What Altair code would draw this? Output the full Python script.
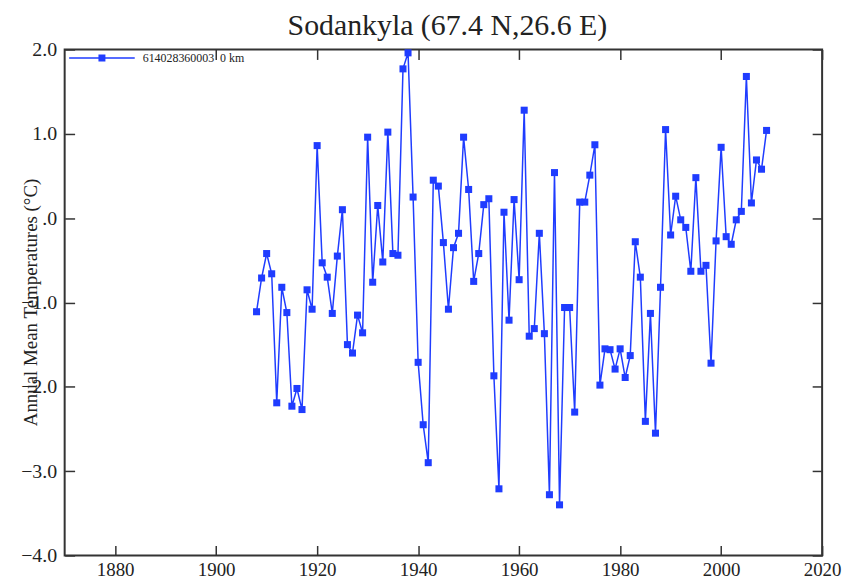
import altair as alt
import pandas as pd

years = list(range(1908, 2010))
temps = [-1.11, -0.71, -0.42, -0.66, -2.19, -0.82, -1.12, -2.23, -2.02, -2.27,
         -0.85, -1.08, 0.86, -0.53, -0.70, -1.13, -0.45, 0.10, -1.50, -1.60,
         -1.15, -1.36, 0.96, -0.76, 0.15, -0.52, 1.02, -0.42, -0.44, 1.77,
         1.96, 0.25, -1.71, -2.45, -2.90, 0.45, 0.38, -0.29, -1.08, -0.35,
         -0.18, 0.96, 0.34, -0.75, -0.42, 0.16, 0.23, -1.87, -3.21, 0.07,
         -1.21, 0.22, -0.73, 1.28, -1.40, -1.31, -0.18, -1.37, -3.28, 0.54,
         -3.40, -1.06, -1.06, -2.30, 0.19, 0.19, 0.51, 0.87, -1.98, -1.55,
         -1.56, -1.79, -1.55, -1.89, -1.63, -0.28, -0.70, -2.41, -1.13, -2.55,
         -0.82, 1.05, -0.20, 0.26, -0.02, -0.11, -0.63, 0.48, -0.63, -0.56,
         -1.72, -0.27, 0.84, -0.22, -0.31, -0.02, 0.08, 1.68, 0.18, 0.69,
         0.58, 1.04]
station_label = "614028360003\u00a0\u00a00 km"
x_ticks = [1880, 1900, 1920, 1940, 1960, 1980, 2000, 2020]
x_ticks_top = [1900, 1920, 1940, 1960, 1980, 2000, 2020]
y_ticks = [-4, -3, -2, -1, 0, 1, 2]

df = pd.DataFrame({"year": years, "temp": temps, "station": [station_label] * len(years)})

BLUE = "#1f3cff"
FONT = "Liberation Serif"
INK = "#333333"
TXT = "#222222"

xscale = alt.Scale(domain=[1870, 2020], nice=False, zero=False)
yscale = alt.Scale(domain=[-4, 2], nice=False, zero=False)

base = alt.Chart(df)

line = base.mark_line(color=BLUE, strokeWidth=1.5).encode(
    x=alt.X("year:Q", scale=xscale, axis=alt.Axis(
        values=x_ticks, title=None, orient="bottom", offset=-10, tickSize=10,
        tickWidth=1.5, tickColor=INK, domain=False, grid=False,
        labelPadding=5, labelFlush=False, labelOverlap=False,
        labelFont=FONT, labelFontSize=19, labelColor=TXT, format="d")),
    y=alt.Y("temp:Q", scale=yscale, axis=alt.Axis(
        values=y_ticks, orient="left", offset=-10, tickSize=10, tickWidth=1.5,
        tickColor=INK, domain=False, grid=False, labelPadding=8,
        labelFont=FONT, labelFontSize=20, labelColor=TXT,
        labelExpr="datum.value == 0 ? '.0' : format(datum.value, '.1f')",
        title="Annual Mean Temperatures (°C)", titleFont=FONT,
        titleFontSize=19, titleFontWeight="normal", titleColor=TXT,
        titleX=-38, titleY=254, titleAngle=-90, titleBaseline="alphabetic",
        titleAlign="center")),
)

# legend glyph: a long line with a small square in the middle
legend_path = ("M-6.6,-0.15H6.6V0.15H-6.6Z "
               "M-0.7,-0.7H0.7V0.7H-0.7Z")

points = base.mark_point(shape="square", filled=True, size=50, opacity=1).encode(
    x=alt.X("year:Q", scale=xscale, axis=None),
    y=alt.Y("temp:Q", scale=yscale, axis=None),
    color=alt.Color("station:N", scale=alt.Scale(range=[BLUE]), legend=alt.Legend(
        title=None, orient="none", legendX=31.5, legendY=2.5, padding=0,
        symbolType=legend_path, symbolSize=100, symbolStrokeWidth=0,
        symbolOpacity=1, labelFont=FONT, labelFontSize=12, labelOffset=35,
        labelColor=TXT, labelLimit=300)),
)

ghost = base.mark_line(opacity=0).encode(
    x=alt.X("year:Q", scale=xscale, axis=alt.Axis(
        values=x_ticks_top, orient="top", offset=-10, tickSize=10, tickWidth=1.5,
        tickColor=INK, domain=False, grid=False, labels=False, title=None)),
    y=alt.Y("temp:Q", scale=yscale, axis=alt.Axis(
        values=y_ticks, orient="right", offset=-10, tickSize=10, tickWidth=1.5,
        tickColor=INK, domain=False, grid=False, labels=False, title=None)),
)

chart = alt.layer(line, points, ghost).resolve_scale(
    x="independent", y="independent"
).resolve_axis(
    x="independent", y="independent"
).properties(
    width=762, height=509,
    autosize=alt.AutoSizeParams(type="none"),
    padding={"left": 57, "top": 40, "right": 20, "bottom": 26},
    title=alt.TitleParams("Sodankyla (67.4 N,26.6 E)", font=FONT, fontSize=30,
                          fontWeight="normal", anchor="middle", offset=3,
                          baseline="alphabetic", dx=4, dy=28, color=TXT),
).configure(
    background="white", font=FONT
).configure_view(
    stroke=INK, strokeWidth=2
).configure_axis(
    labelFont=FONT, titleFont=FONT
).configure_title(
    font=FONT
).configure_legend(
    labelFont=FONT
)

chart.save("out.html", embed_options={"renderer": "svg", "actions": False})
